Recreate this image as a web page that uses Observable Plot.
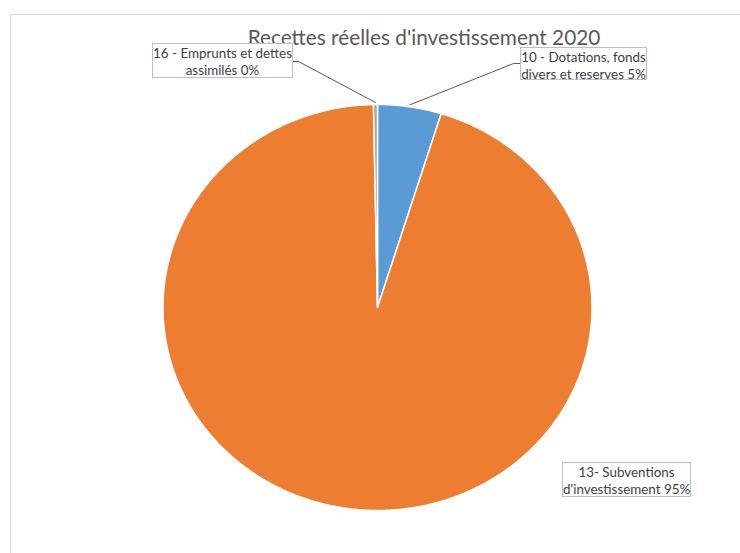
<!DOCTYPE html>
<html>
<head>
<meta charset="utf-8">
<script src="https://cdn.jsdelivr.net/npm/d3@7"></script>
<script src="https://cdn.jsdelivr.net/npm/@observablehq/plot@0.6"></script>
<style>
  html, body { margin: 0; padding: 0; background: #fff; }
  #wrap { position: relative; width: 740px; height: 553px; overflow: hidden; font-family: Lato, "Open Sans", sans-serif; }
  #border { position: absolute; left: 10px; top: 14px; width: 800px; height: 600px; border: 1px solid #d9d9d9; box-sizing: border-box; }
  #title { position: absolute; left: 0; width: 848px; top: 24px; text-align: center; font-size: 20.8px; color: #595959; white-space: nowrap; }
  .lbl { position: absolute; box-sizing: border-box; border: 1px solid #bfbfbf; background: #fff; color: #404040; font-size: 13.4px; line-height: 16.5px; text-align: center; white-space: nowrap; padding-top: 1px; }
  #chart { position: absolute; left: 0; top: 0; }
</style>
</head>
<body>
<div id="wrap">
  <div id="border"></div>
  <div id="chart"></div>
  <div id="title"></div>
</div>
<script>
// ---- Data ----
const title = "Recettes réelles d'investissement 2020";
const categories = ["10 - Dotations, fonds divers et reserves", "13- Subventions d'investissement", "16 - Emprunts et dettes assimilés"];
const values = [4.8, 94.9, 0.3];
const percentLabels = ["5%", "95%", "0%"];
const labelLines = [
  ["10 - Dotations, fonds", "divers et reserves 5%"],
  ["13- Subventions", "d'investissement 95%"],
  ["16 - Emprunts et dettes", "assimilés 0%"]
];
const colors = ["#5b9bd5", "#ed7d31", "#a5a5a5"];

// ---- Geometry (pie from values) ----
const cx = 377, cy = 307, rx = 214.5, ry = 203;
const toX = px => (px - cx) / rx;
const toY = py => (cy - py) / ry;

const arcs = d3.pie().sort(null).value(d => d.value).startAngle(0).endAngle(2 * Math.PI)(
  categories.map((c, i) => ({name: c, value: values[i]}))
);
const slicePts = [];
arcs.forEach(a => {
  const name = a.data.name;
  slicePts.push({name, x: 0, y: 0});
  const n = Math.max(2, Math.ceil((a.endAngle - a.startAngle) / (Math.PI / 360)));
  for (let k = 0; k <= n; k++) {
    const t = a.startAngle + (a.endAngle - a.startAngle) * k / n;
    slicePts.push({name, x: Math.sin(t), y: Math.cos(t)});
  }
  slicePts.push({name, x: 0, y: 0});
});

// leader lines: label box edge (pixels, layout) -> slice mid-angle on rim
const leaderBox = {
  0: [[520, 63], [513, 63]],
  2: [[292, 61], [298, 61]]
};
const leaders = [];
Object.entries(leaderBox).forEach(([i, pts]) => {
  const a = arcs[+i];
  const m = (a.startAngle + a.endAngle) / 2;
  pts.forEach(p => leaders.push({k: i, x: toX(p[0]), y: toY(p[1])}));
  leaders.push({k: i, x: Math.sin(m) * 1.01, y: Math.cos(m) * 1.01});
});

const chart = Plot.plot({
  width: 740,
  height: 553,
  margin: 0,
  x: {domain: [-1, 1], range: [cx - rx, cx + rx], axis: null},
  y: {domain: [-1, 1], range: [cy + ry, cy - ry], axis: null},
  color: {domain: categories, range: colors},
  style: {background: "transparent"},
  marks: [
    Plot.line(slicePts, {x: "x", y: "y", z: "name", fill: "name", stroke: "white", strokeWidth: 1.5, strokeLinejoin: "round", curve: "linear"}),
    Plot.line(leaders, {x: "x", y: "y", z: "k", stroke: "#595959", strokeWidth: 1})
  ]
});
document.getElementById("chart").appendChild(chart);
document.getElementById("title").textContent = title;

// label boxes (layout positions in pixels)
const boxes = [
  {i: 0, left: 520, top: 47, w: 127, h: 33},
  {i: 1, left: 562, top: 462, w: 129, h: 35},
  {i: 2, left: 152, top: 43, w: 141, h: 35}
];
const wrap = document.getElementById("wrap");
boxes.forEach(b => {
  const d = document.createElement("div");
  d.className = "lbl";
  Object.assign(d.style, {left: b.left + "px", top: b.top + "px", width: b.w + "px", height: b.h + "px"});
  labelLines[b.i].forEach((t, j) => {
    if (j) d.appendChild(document.createElement("br"));
    d.appendChild(document.createTextNode(t));
  });
  wrap.appendChild(d);
});
</script>
</body>
</html>
